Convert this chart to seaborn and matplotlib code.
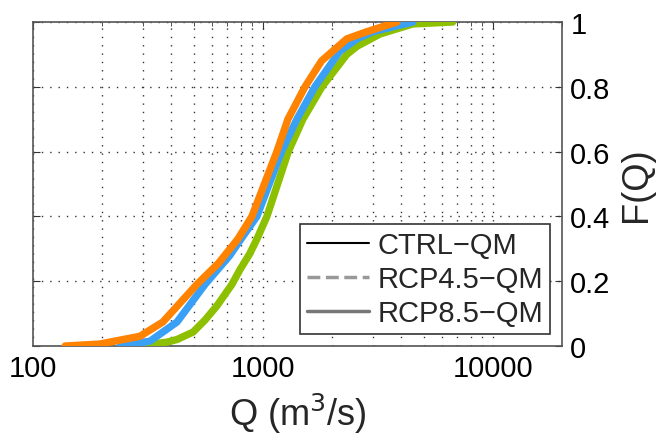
import numpy as np
import pandas as pd
import seaborn as sns
import matplotlib
matplotlib.use("Agg")
import matplotlib.pyplot as plt
from matplotlib.ticker import LogLocator, FixedLocator, NullFormatter

# curves (Q in m3/s, F = cumulative probability)
q_orange = [138, 195, 292, 367, 516, 640, 778, 896, 1150, 1285, 1524, 1800, 2318, 2830, 3830]
f_orange = [0.0, 0.006, 0.03, 0.074, 0.19, 0.255, 0.33, 0.40, 0.60, 0.70, 0.80, 0.88, 0.948, 0.97, 1.0]

q_blue = [239, 323, 346, 423, 560, 719, 794, 942, 1205, 1406, 1683, 2162, 2566, 3005, 4490]
f_blue = [0.0, 0.015, 0.03, 0.074, 0.19, 0.28, 0.325, 0.40, 0.60, 0.70, 0.80, 0.91, 0.948, 0.97, 1.0]

q_green = [286, 383, 423, 497, 560, 631, 733, 794, 877, 942, 1041, 1290, 1493, 1807, 2318, 2566, 3230, 4490, 6700]
f_green = [0.0, 0.012, 0.02, 0.043, 0.08, 0.124, 0.19, 0.235, 0.285, 0.33, 0.40, 0.60, 0.70, 0.80, 0.90, 0.925, 0.963, 0.994, 1.0]

legend_labels = ['CTRL\u2212QM', 'RCP4.5\u2212QM', 'RCP8.5\u2212QM']
x_ticks = [100, 1000, 10000]
y_ticks = [0, 0.2, 0.4, 0.6, 0.8, 1]
y_ticklabels = ['0', '0.2', '0.4', '0.6', '0.8', '1']

sns.set_style("white")
plt.rcParams['font.family'] = ['Liberation Sans', 'DejaVu Sans']

fig = plt.figure(figsize=(6.56, 4.39), dpi=100)
ax = fig.add_axes([0.0503, 0.2096, 0.8064, 0.738])

# thin styled reference lines underneath (these give the legend)
sns.lineplot(x=q_green, y=f_green, ax=ax, color='black', lw=1.5, ls='-',
             sort=False, estimator=None, label=legend_labels[0], zorder=2)
sns.lineplot(x=q_blue, y=f_blue, ax=ax, color='#999999', lw=2.5, ls='--',
             sort=False, estimator=None, label=legend_labels[1], zorder=2)
sns.lineplot(x=q_orange, y=f_orange, ax=ax, color='#777777', lw=2.5, ls='-',
             sort=False, estimator=None, label=legend_labels[2], zorder=2)

# thick coloured curves
thick = dict(lw=5.3, sort=False, estimator=None, solid_capstyle='round',
             solid_joinstyle='round')
sns.lineplot(x=q_green, y=f_green, ax=ax, color='#8cc000', zorder=3, **thick)
sns.lineplot(x=q_blue, y=f_blue, ax=ax, color='#3aa0f5', zorder=4, **thick)
sns.lineplot(x=q_orange, y=f_orange, ax=ax, color='#ff8200', zorder=5, **thick)

ax.set_xscale('log')
ax.set_xlim(100, 20000)
ax.set_ylim(0, 1)

ax.xaxis.set_major_locator(FixedLocator(x_ticks))
ax.set_xticklabels([str(t) for t in x_ticks])
ax.xaxis.set_minor_locator(LogLocator(base=10, subs=np.arange(2, 10)))
ax.xaxis.set_minor_formatter(NullFormatter())
ax.set_yticks(y_ticks)
ax.set_yticklabels(y_ticklabels)

ax.yaxis.tick_right()
ax.yaxis.set_label_position('right')
ax.tick_params(axis='both', which='both', direction='in', top=True, right=True,
               left=True, labelleft=False, labelright=True, labelsize=21,
               colors='#333333', labelcolor='black')
ax.tick_params(axis='both', which='major', length=5, pad=6)
ax.tick_params(axis='x', which='minor', length=3)

grid_ls = (0, (1, 5))
ax.grid(True, which='both', axis='x', ls=grid_ls, color='#333333', lw=1)
ax.grid(True, which='major', axis='y', ls=grid_ls, color='#333333', lw=1)
ax.set_axisbelow(True)

for s in ax.spines.values():
    s.set_color('#555555')
    s.set_linewidth(1.2)

ax.set_xlabel('Q (m$^3$/s)', fontsize=26, labelpad=6)
ax.set_ylabel('F(Q)', fontsize=26, labelpad=6)

leg = ax.legend(loc='lower right', fontsize=21, frameon=True, fancybox=False,
                edgecolor='#333333', framealpha=1, handlelength=2.1,
                handletextpad=0.3, borderpad=0.25, labelspacing=0.2,
                borderaxespad=0.4)
leg.get_frame().set_linewidth(1.2)
leg.set_zorder(10)

fig.savefig('out.png', dpi=100)
